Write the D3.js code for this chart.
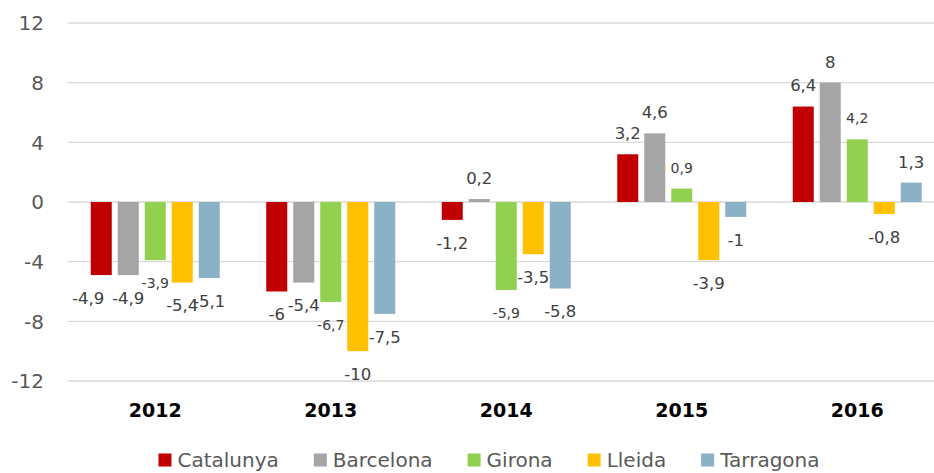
<!DOCTYPE html>
<html>
<head>
<meta charset="utf-8">
<script src="https://cdn.jsdelivr.net/npm/d3@7"></script>
<style>
  body { margin: 0; background: #fff; }
  svg { display: block; font-family: "DejaVu Sans", Verdana, sans-serif; }
</style>
</head>
<body>
<div id="chart"></div>
<script>
// ==== data ====
const years = ["2012", "2013", "2014", "2015", "2016"];
const seriesNames = ["Catalunya", "Barcelona", "Girona", "Lleida", "Tarragona"];
const catalunya = [-4.9, -6, -1.2, 3.2, 6.4];
const barcelona = [-4.9, -5.4, 0.2, 4.6, 8];
const girona    = [-3.9, -6.7, -5.9, 0.9, 4.2];
const lleida    = [-5.4, -10, -3.5, -3.9, -0.8];
const tarragona = [-5.1, -7.5, -5.8, -1, 1.3];
const yTicks = [-12, -8, -4, 0, 4, 8, 12];

const colors = ["#c00000", "#a5a5a5", "#92d050", "#ffc000", "#8ab1c6"];
const seriesValues = [catalunya, barcelona, girona, lleida, tarragona];

const W = 934, H = 473;
const plot = { left: 67.5, right: 945, top: 23, bottom: 381 };

const svg = d3.select("#chart").append("svg")
  .attr("width", W)
  .attr("height", H);

// ==== scales ====
const x0 = d3.scaleBand()
  .domain(years)
  .range([plot.left, plot.right])
  .paddingInner(0.265)
  .paddingOuter(0.1325);

const x1 = d3.scaleBand()
  .domain(seriesNames)
  .range([0, x0.bandwidth()])
  .paddingInner(0.222);

const y = d3.scaleLinear()
  .domain([-12, 12])
  .range([plot.bottom, plot.top]);

const color = d3.scaleOrdinal().domain(seriesNames).range(colors);

// ==== gridlines ====
svg.append("g")
  .selectAll("line")
  .data(yTicks)
  .join("line")
    .attr("x1", plot.left)
    .attr("x2", W)
    .attr("y1", d => y(d))
    .attr("y2", d => y(d))
    .attr("stroke", "#d9d9d9")
    .attr("stroke-width", 1.3);

// y tick labels
svg.append("g")
  .selectAll("text")
  .data(yTicks)
  .join("text")
    .attr("x", 44)
    .attr("y", d => y(d))
    .attr("dy", "0.36em")
    .attr("text-anchor", "end")
    .attr("fill", "#595959")
    .style("font-size", "20px")
    .text(d => d);

// ==== bars ====
const rows = [];
years.forEach((yr, i) => {
  seriesNames.forEach((s, j) => {
    rows.push({ year: yr, series: s, value: seriesValues[j][i] });
  });
});

svg.append("g")
  .selectAll("rect")
  .data(rows)
  .join("rect")
    .attr("x", d => x0(d.year) + x1(d.series))
    .attr("y", d => y(Math.max(0, d.value)))
    .attr("width", x1.bandwidth())
    .attr("height", d => Math.abs(y(d.value) - y(0)))
    .attr("fill", d => color(d.series));

// data labels (first one was dragged left in the original)
const fmt = v => String(v).replace(".", ",");
svg.append("g")
  .selectAll("text")
  .data(rows)
  .join("text")
    .attr("x", (d, i) => x0(d.year) + x1(d.series) + x1.bandwidth() / 2 - (i === 0 ? 13 : 0))
    .attr("y", d => d.value >= 0 ? y(d.value) - 21 : y(d.value) + 23)
    .attr("dy", "0.36em")
    .attr("text-anchor", "middle")
    .attr("fill", "#404040")
    .style("font-size", d => d.series === "Girona" ? "14px" : "16.5px")
    .text(d => fmt(d.value));

// category labels
svg.append("g")
  .selectAll("text")
  .data(years)
  .join("text")
    .attr("x", d => x0(d) + x0.bandwidth() / 2)
    .attr("y", 410)
    .attr("dy", "0.36em")
    .attr("text-anchor", "middle")
    .attr("fill", "#000")
    .style("font-size", "19px")
    .style("font-weight", "bold")
    .text(d => d);

// ==== legend ====
const legend = svg.append("g");
const items = legend.selectAll("g")
  .data(seriesNames)
  .join("g");

items.append("rect")
  .attr("width", 13)
  .attr("height", 13)
  .attr("y", -6.5)
  .attr("fill", d => color(d));

items.append("text")
  .attr("x", 19)
  .attr("dy", "0.36em")
  .attr("fill", "#595959")
  .style("font-size", "20px")
  .text(d => d);

let cursor = 0;
items.each(function() {
  const w = this.getBBox().width;
  d3.select(this).attr("transform", `translate(${cursor},460)`);
  cursor += w + 35;
});
const total = cursor - 35;
legend.attr("transform", `translate(${489 - total / 2},0)`);
</script>
</body>
</html>
